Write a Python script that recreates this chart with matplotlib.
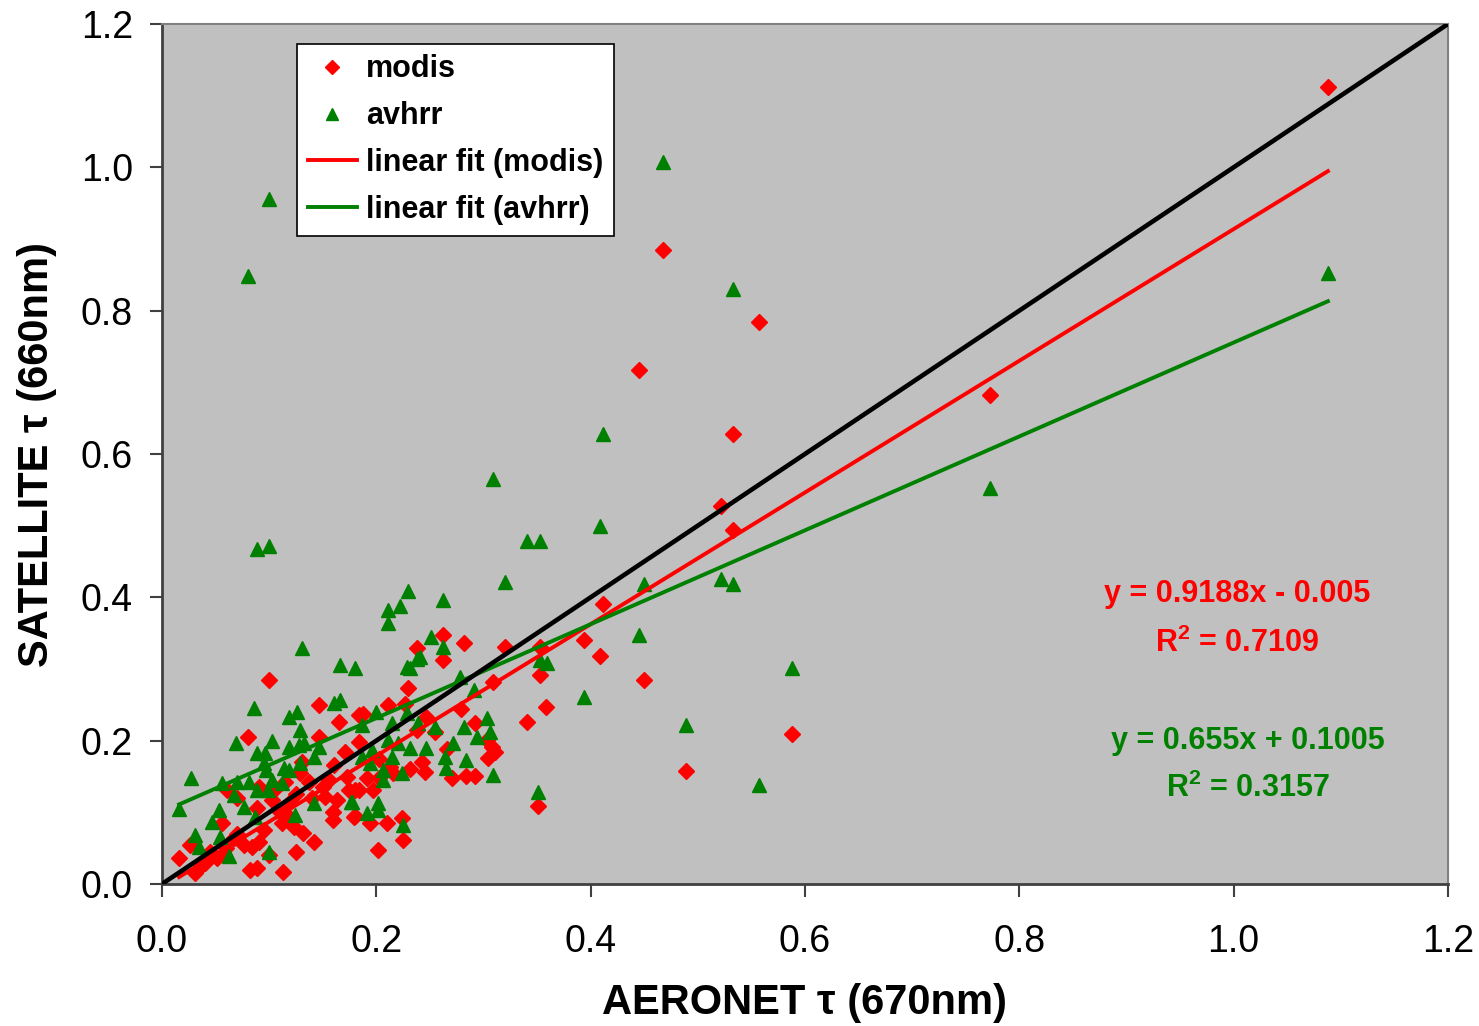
import numpy as np
import matplotlib
matplotlib.use('Agg')
import matplotlib.pyplot as plt

plt.rcParams['font.family'] = ['Liberation Sans', 'DejaVu Sans']
plt.rcParams['mathtext.fontset'] = 'custom'
plt.rcParams['mathtext.rm'] = 'Liberation Sans:bold'
plt.rcParams['mathtext.bf'] = 'Liberation Sans:bold'
plt.rcParams['mathtext.it'] = 'Liberation Sans:bold'

# AERONET vs MODIS optical depth
modis_x = [1.088, 0.4675, 0.445, 0.557, 0.533, 0.773, 0.522, 0.533, 0.412, 0.394,
           0.409, 0.450, 0.358, 0.341, 0.588, 0.489, 0.351, 0.353, 0.353,
           0.320, 0.309, 0.282, 0.262, 0.262, 0.238, 0.230, 0.211, 0.227, 0.188,
           0.246, 0.279, 0.292, 0.255, 0.238, 0.303, 0.308, 0.311, 0.304, 0.266,
           0.243, 0.245, 0.231, 0.213, 0.216, 0.271, 0.284, 0.292, 0.203, 0.191,
           0.197, 0.180, 0.179, 0.194, 0.210, 0.224, 0.225, 0.202, 0.203,
           0.100, 0.147, 0.080, 0.165, 0.184, 0.147, 0.016, 0.026, 0.031, 0.051,
           0.082, 0.089, 0.113, 0.125, 0.142, 0.100, 0.084, 0.077, 0.091, 0.067,
           0.056, 0.089, 0.061, 0.070, 0.103, 0.091, 0.105, 0.119, 0.115, 0.123,
           0.132, 0.112, 0.152, 0.163, 0.160, 0.160, 0.180, 0.175, 0.156, 0.137,
           0.129, 0.131, 0.115, 0.161, 0.173, 0.184, 0.171, 0.184,
           0.040, 0.045, 0.060, 0.070, 0.095, 0.110, 0.140, 0.150, 0.125, 0.120,
           0.036, 0.058]
modis_y = [1.112, 0.885, 0.717, 0.784, 0.628, 0.682, 0.527, 0.494, 0.391, 0.340,
           0.318, 0.285, 0.247, 0.226, 0.209, 0.158, 0.109, 0.292, 0.331,
           0.331, 0.282, 0.336, 0.347, 0.312, 0.329, 0.273, 0.250, 0.251, 0.237,
           0.233, 0.244, 0.225, 0.212, 0.215, 0.201, 0.191, 0.184, 0.176, 0.188,
           0.170, 0.156, 0.160, 0.163, 0.155, 0.148, 0.151, 0.151, 0.148, 0.148,
           0.131, 0.131, 0.093, 0.085, 0.085, 0.092, 0.061, 0.047, 0.174,
           0.285, 0.250, 0.205, 0.226, 0.236, 0.205, 0.036, 0.054, 0.015, 0.036,
           0.020, 0.022, 0.017, 0.045, 0.059, 0.040, 0.052, 0.054, 0.059, 0.064,
           0.085, 0.106, 0.131, 0.120, 0.117, 0.135, 0.131, 0.113, 0.099, 0.080,
           0.071, 0.085, 0.121, 0.117, 0.100, 0.089, 0.095, 0.131, 0.145, 0.142,
           0.155, 0.170, 0.142, 0.166, 0.149, 0.131, 0.184, 0.198,
           0.030, 0.045, 0.050, 0.070, 0.075, 0.100, 0.120, 0.135, 0.125, 0.090,
           0.025, 0.040]

# AERONET vs AVHRR optical depth
avhrr_x = [0.4675, 0.100, 0.080, 0.533, 1.088, 0.412, 0.309, 0.409, 0.341, 0.353,
           0.089, 0.100, 0.773, 0.522, 0.533, 0.450, 0.320, 0.445, 0.394, 0.588,
           0.489, 0.557, 0.309, 0.351, 0.359, 0.353,
           0.230, 0.222, 0.211, 0.211, 0.262, 0.251, 0.262, 0.241, 0.238, 0.229,
           0.231, 0.180, 0.166, 0.278, 0.291, 0.200, 0.229, 0.187, 0.215, 0.239,
           0.255, 0.282, 0.303, 0.306, 0.294, 0.272, 0.246, 0.231, 0.220, 0.211,
           0.215, 0.196, 0.187, 0.194, 0.264, 0.265, 0.284, 0.206, 0.206, 0.224,
           0.202, 0.202, 0.191, 0.177, 0.225,
           0.131, 0.161, 0.166, 0.086, 0.119, 0.126, 0.129, 0.069, 0.103, 0.089,
           0.096, 0.119, 0.128, 0.133, 0.147, 0.142, 0.114, 0.095, 0.097, 0.103,
           0.119, 0.129, 0.089, 0.099, 0.081, 0.070, 0.056, 0.027, 0.016, 0.053,
           0.067, 0.047, 0.054, 0.031, 0.035, 0.063, 0.100, 0.077, 0.087, 0.124,
           0.142, 0.176, 0.112]
avhrr_y = [1.007, 0.956, 0.848, 0.830, 0.853, 0.628, 0.565, 0.500, 0.479, 0.479,
           0.467, 0.472, 0.553, 0.426, 0.419, 0.419, 0.421, 0.347, 0.261, 0.301,
           0.222, 0.138, 0.152, 0.128, 0.308, 0.313,
           0.409, 0.388, 0.382, 0.364, 0.396, 0.345, 0.331, 0.317, 0.314, 0.303,
           0.301, 0.301, 0.306, 0.289, 0.271, 0.240, 0.238, 0.222, 0.225, 0.225,
           0.219, 0.219, 0.232, 0.212, 0.205, 0.197, 0.190, 0.190, 0.197, 0.201,
           0.177, 0.187, 0.177, 0.169, 0.177, 0.162, 0.173, 0.159, 0.145, 0.155,
           0.113, 0.103, 0.099, 0.114, 0.082,
           0.329, 0.252, 0.257, 0.245, 0.233, 0.240, 0.215, 0.197, 0.200, 0.183,
           0.183, 0.191, 0.194, 0.197, 0.191, 0.177, 0.162, 0.169, 0.159, 0.145,
           0.159, 0.169, 0.131, 0.131, 0.142, 0.142, 0.141, 0.148, 0.105, 0.103,
           0.124, 0.087, 0.066, 0.068, 0.052, 0.039, 0.045, 0.107, 0.093, 0.096,
           0.113, 0.114, 0.141]

# fit coefficients as printed on the chart
modis_fit = (0.9188, -0.005)
avhrr_fit = (0.655, 0.1005)

fig = plt.figure(figsize=(14.79, 10.26), dpi=100)
ax = fig.add_axes([0.1095, 0.1384, 0.8695, 0.8382])
ax.set_facecolor('#C0C0C0')

ax.plot(modis_x, modis_y, 'D', color='#FF0000', ms=8.5, mec='#FF0000', ls='none',
        label='modis', zorder=3)
ax.plot(avhrr_x, avhrr_y, '^', color='#008000', ms=10.5, mec='#008000', ls='none',
        label='avhrr', zorder=3)

xm = np.array([min(modis_x), max(modis_x)])
ax.plot(xm, modis_fit[0] * xm + modis_fit[1], color='#FF0000', lw=2.8,
        label='linear fit (modis)', zorder=4)
xa = np.array([min(avhrr_x), max(avhrr_x)])
ax.plot(xa, avhrr_fit[0] * xa + avhrr_fit[1], color='#008000', lw=2.8,
        label='linear fit (avhrr)', zorder=4)
ax.plot([0, 1.2], [0, 1.2], color='black', lw=3.3, zorder=5)

ax.set_xlim(0, 1.2)
ax.set_ylim(0, 1.2)
ticks = np.arange(0, 1.21, 0.2)
ax.set_xticks(ticks)
ax.set_yticks(ticks)
ax.set_xticklabels(['%.1f' % t for t in ticks])
ax.set_yticklabels(['%.1f' % t for t in ticks])
ax.tick_params(direction='out', length=9, width=1.5, labelsize=27,
               color='#404040')
ax.tick_params(axis='x', pad=20)
ax.tick_params(axis='y', pad=12)

for side in ['left', 'bottom']:
    ax.spines[side].set_color('#404040')
    ax.spines[side].set_linewidth(2)
for side in ['top', 'right']:
    ax.spines[side].set_color('#808080')
    ax.spines[side].set_linewidth(1.5)

ax.set_xlabel('AERONET τ (670nm)', fontsize=30, fontweight='bold', labelpad=16)
ax.set_ylabel('SATELLITE τ (660nm)', fontsize=30, fontweight='bold', labelpad=17)

ax.text(1.003, 0.405, 'y = 0.9188x - 0.005', color='#FF0000', fontsize=22,
        fontweight='bold', ha='center', va='center')
ax.text(1.003, 0.336, r'R$^2$ = 0.7109', color='#FF0000', fontsize=22,
        fontweight='bold', ha='center', va='center')
ax.text(1.013, 0.200, 'y = 0.655x + 0.1005', color='#008000', fontsize=22,
        fontweight='bold', ha='center', va='center')
ax.text(1.013, 0.133, r'R$^2$ = 0.3157', color='#008000', fontsize=22,
        fontweight='bold', ha='center', va='center')

leg = ax.legend(loc='upper left', bbox_to_anchor=(0.105, 0.977), fancybox=False,
                framealpha=1, edgecolor='black', prop={'size': 22, 'weight': 'bold'},
                handlelength=1.6, handletextpad=0.3, labelspacing=0.55,
                borderpad=0.35, borderaxespad=0, markerscale=0.8)
leg.get_frame().set_linewidth(1.2)

fig.savefig('out.png', dpi=100)
